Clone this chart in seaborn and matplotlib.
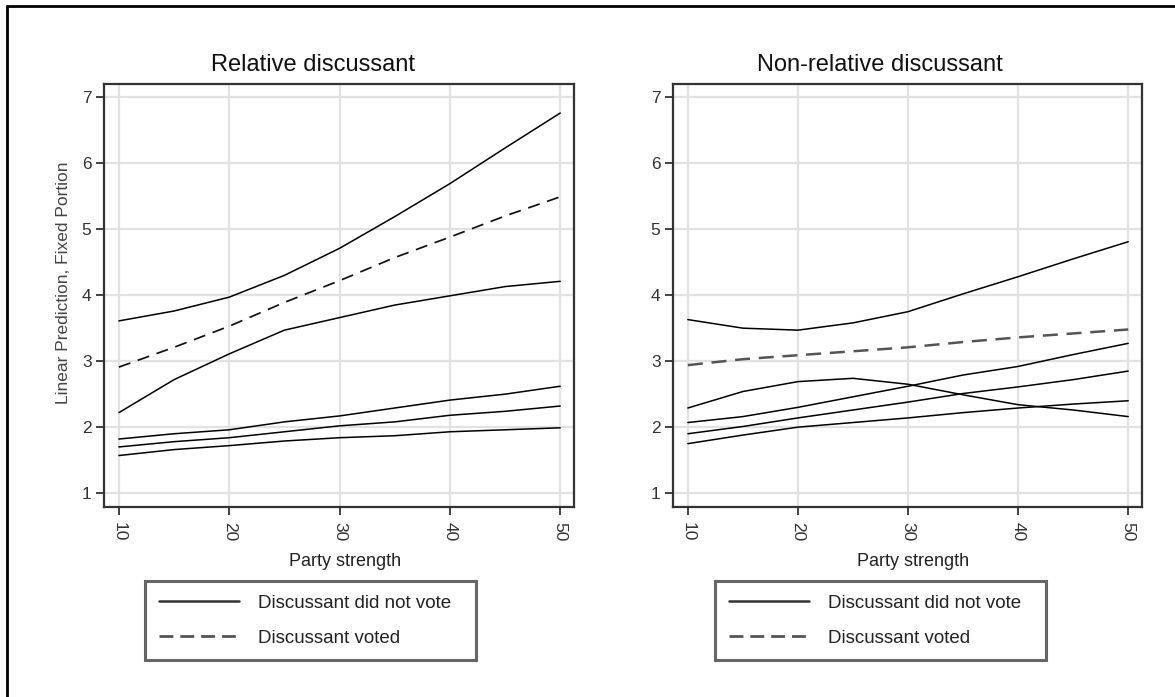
import matplotlib
matplotlib.use("Agg")
import matplotlib.pyplot as plt
from matplotlib.lines import Line2D
import seaborn as sns
import pandas as pd

# ---------------- data ----------------
party_strength = [10, 15, 20, 25, 30, 35, 40, 45, 50]

# Relative discussant panel
rel_not_voted_1 = [3.61, 3.76, 3.97, 4.30, 4.71, 5.19, 5.69, 6.23, 6.76]
rel_not_voted_2 = [2.22, 2.72, 3.11, 3.47, 3.66, 3.85, 3.99, 4.13, 4.21]
rel_not_voted_3 = [1.82, 1.90, 1.96, 2.08, 2.17, 2.29, 2.41, 2.50, 2.62]
rel_not_voted_4 = [1.70, 1.78, 1.84, 1.93, 2.02, 2.08, 2.18, 2.24, 2.32]
rel_not_voted_5 = [1.57, 1.66, 1.72, 1.79, 1.84, 1.87, 1.93, 1.96, 1.99]
rel_voted = [2.91, 3.21, 3.53, 3.89, 4.22, 4.57, 4.88, 5.20, 5.49]

# Non-relative discussant panel
nonrel_not_voted_1 = [3.63, 3.50, 3.47, 3.58, 3.75, 4.02, 4.28, 4.55, 4.81]
nonrel_not_voted_2 = [2.29, 2.54, 2.69, 2.74, 2.65, 2.49, 2.34, 2.26, 2.16]
nonrel_not_voted_3 = [2.07, 2.16, 2.30, 2.46, 2.62, 2.79, 2.92, 3.10, 3.27]
nonrel_not_voted_4 = [1.90, 2.01, 2.14, 2.26, 2.38, 2.51, 2.61, 2.72, 2.85]
nonrel_not_voted_5 = [1.75, 1.88, 2.00, 2.07, 2.14, 2.22, 2.29, 2.35, 2.40]
nonrel_voted = [2.94, 3.03, 3.09, 3.15, 3.21, 3.29, 3.36, 3.42, 3.48]

panel_titles = ["Relative discussant", "Non-relative discussant"]
legend_labels = ["Discussant did not vote", "Discussant voted"]
x_ticks = [10, 20, 30, 40, 50]
y_ticks = [1, 2, 3, 4, 5, 6, 7]
x_label = "Party strength"
y_label = "Linear Prediction, Fixed Portion"

panels = [
    ([rel_not_voted_1, rel_not_voted_2, rel_not_voted_3, rel_not_voted_4, rel_not_voted_5], rel_voted),
    ([nonrel_not_voted_1, nonrel_not_voted_2, nonrel_not_voted_3, nonrel_not_voted_4, nonrel_not_voted_5], nonrel_voted),
]

# ---------------- style ----------------
sns.set_theme(style="white")
plt.rcParams["font.family"] = ["Liberation Sans", "DejaVu Sans"]

W, H = 1175, 697
fig = plt.figure(figsize=(W / 100, H / 100), dpi=100)
fig.patch.set_facecolor("white")

def fx(px):
    return px / W

def fy(py):
    return 1 - py / H

axes_px = [(104, 574), (673, 1142)]
top_px, bot_px = 84, 507
title_x = [313, 880]
xlabel_x = [345, 913]
legend_box = [(145, 476), (715, 1046)]

for i, (solids, dashed) in enumerate(panels):
    l, r = axes_px[i]
    ax = fig.add_axes([fx(l), fy(bot_px), fx(r - l), (bot_px - top_px) / H])
    for s in solids:
        sns.lineplot(x=party_strength, y=s, ax=ax, color="black", lw=1.1,
                     legend=False, zorder=3)
    sns.lineplot(x=party_strength, y=dashed, ax=ax,
                 color="#111111" if i == 0 else "#555555",
                 lw=1.25 if i == 0 else 1.8, legend=False, zorder=3)
    ax.lines[-1].set_linestyle((0, (7, 4.5)) if i == 0 else (0, (6, 3.5)))

    ax.set_xlim(8.65, 51.25)
    ax.set_ylim(0.79, 7.2)
    ax.set_xticks(x_ticks)
    ax.set_yticks(y_ticks)
    ax.set_xticklabels([str(v) for v in x_ticks], rotation=270)
    ax.set_yticklabels([str(v) for v in y_ticks])
    ax.grid(True, color="#e2e2e2", lw=1.6, zorder=0)
    ax.set_axisbelow(True)
    for sp in ax.spines.values():
        sp.set_color("#333333")
        sp.set_linewidth(1.6)
    ax.tick_params(axis="both", which="both", direction="out", length=5.5,
                   width=1.3, color="#333333", labelsize=12.5,
                   labelcolor="#333333", left=True, bottom=True)
    ax.tick_params(axis="x", pad=5.5)
    ax.tick_params(axis="y", pad=3.5)

    ax.set_xlabel(x_label, fontsize=13, color="#222222")
    ax.xaxis.set_label_coords((xlabel_x[i] - l) / (r - l), -0.108)
    if i == 0:
        ax.set_ylabel(y_label, fontsize=12.5, color="#444444")
        ax.yaxis.set_label_coords(-0.07, 0.53)
    else:
        ax.set_ylabel("")

    ax.text((title_x[i] - l) / (r - l), (bot_px - 71) / (bot_px - top_px),
            panel_titles[i], transform=ax.transAxes, ha="center",
            va="baseline", fontsize=17, color="#111111")

    handles = [Line2D([], [], color="#333333", lw=1.8),
               Line2D([], [], color="#555555", lw=2.0, linestyle=(0, (5, 2.5)))]
    bl, br = legend_box[i]
    leg = ax.legend(handles, legend_labels, loc="upper left",
                    bbox_to_anchor=(fx(bl), fy(581), fx(br - bl), 0.0),
                    bbox_transform=fig.transFigure, mode="expand",
                    fontsize=13.5, handlelength=4.3, handletextpad=1.0,
                    borderpad=0.72, labelspacing=0.95, borderaxespad=0,
                    fancybox=False, framealpha=1, edgecolor="#666666",
                    facecolor="white")
    leg.get_frame().set_linewidth(2.2)
    for t in leg.get_texts():
        t.set_color("#222222")

# outer frame (top & left edges visible)
fig.add_artist(Line2D([fx(7), 1.0], [fy(6), fy(6)], color="black", lw=2.0,
                      transform=fig.transFigure))
fig.add_artist(Line2D([fx(7), fx(7)], [fy(6), 0.0], color="black", lw=2.0,
                      transform=fig.transFigure))

fig.savefig("out.png", dpi=100, facecolor="white")
